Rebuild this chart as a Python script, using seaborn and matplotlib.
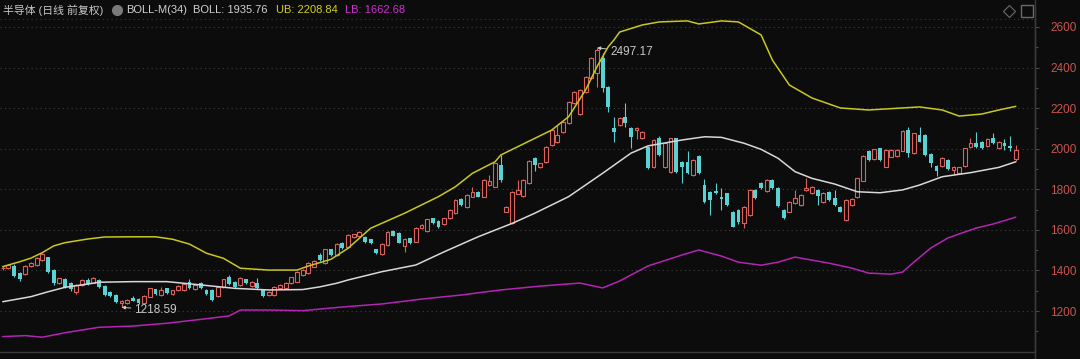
import numpy as np
import pandas as pd
import matplotlib
matplotlib.use("Agg")
import matplotlib.pyplot as plt
from matplotlib.lines import Line2D
import seaborn as sns

# ---------------- data ----------------
opens = [1410, 1412, 1422, 1389, 1381, 1422, 1427, 1451, 1465, 1400,
         1337, 1358, 1340, 1295, 1328, 1353, 1340, 1353, 1323, 1293,
         1279, 1240, 1241, 1263, 1258, 1241, 1271, 1307, 1279, 1312,
         1282, 1303, 1304, 1345, 1310, 1340, 1304, 1304, 1274, 1320,
         1366, 1345, 1328, 1356, 1325, 1340, 1307, 1280, 1280, 1312,
         1312, 1337, 1345, 1378, 1389, 1419, 1476, 1438, 1504, 1476,
         1537, 1517, 1566, 1570, 1565, 1553, 1504, 1481, 1525, 1594,
         1585, 1523, 1558, 1542, 1608, 1596, 1657, 1645, 1629, 1657,
         1682, 1751, 1714, 1764, 1788, 1764, 1821, 1813, 1920, 1690,
         1632, 1779, 1767, 1830, 1954, 1911, 1936, 2018, 2035, 2084,
         2125, 2225, 2171, 2281, 2348, 2373, 2447, 2306, 2102, 2117,
         2158, 2102, 2092, 2053, 2010, 1911, 2051, 1911, 1887, 2051,
         1936, 1936, 1871, 1964, 1821, 1788, 1793, 1764, 1780, 1690,
         1698, 1632, 1673, 1797, 1833, 1793, 1846, 1805, 1698, 1690,
         1734, 1723, 1797, 1780, 1797, 1739, 1788, 1756, 1714, 1649,
         1723, 1760, 1843, 1991, 1949, 2002, 1912, 1961, 1964, 1991,
         2092, 1978, 2068, 2068, 1974, 1915, 1915, 1944, 1895, 1879,
         1915, 2010, 2030, 2035, 2014, 2051, 2002, 2030, 2015, 1947]
closes = [1414, 1427, 1373, 1360, 1422, 1438, 1460, 1481, 1394, 1337,
          1361, 1320, 1307, 1328, 1353, 1332, 1361, 1320, 1279, 1274,
          1245, 1250, 1254, 1251, 1238, 1274, 1312, 1284, 1304, 1288,
          1303, 1323, 1333, 1312, 1330, 1315, 1284, 1254, 1320, 1356,
          1333, 1317, 1361, 1337, 1343, 1313, 1272, 1293, 1320, 1328,
          1337, 1366, 1394, 1402, 1438, 1448, 1451, 1504, 1476, 1530,
          1510, 1575, 1578, 1591, 1538, 1534, 1485, 1529, 1591, 1572,
          1537, 1555, 1534, 1608, 1624, 1652, 1632, 1614, 1657, 1698,
          1747, 1723, 1772, 1788, 1764, 1846, 1843, 1928, 1846, 1714,
          1788, 1797, 1846, 1941, 1920, 1928, 2010, 2092, 2068, 2133,
          2232, 2281, 2290, 2355, 2447, 2487, 2299, 2207, 2084, 2151,
          2125, 2059, 2102, 2084, 1905, 2043, 1969, 2028, 2051, 1887,
          1908, 1879, 1945, 1879, 1739, 1747, 1780, 1751, 1723, 1616,
          1640, 1714, 1797, 1756, 1805, 1846, 1805, 1718, 1657, 1739,
          1756, 1772, 1806, 1813, 1767, 1783, 1747, 1723, 1690, 1747,
          1751, 1854, 1964, 1944, 1997, 1944, 1994, 1994, 1994, 2089,
          1978, 2076, 2035, 1969, 1928, 1892, 1953, 1899, 1912, 1908,
          2002, 2027, 2007, 2002, 2047, 2027, 2035, 2015, 2004, 1993]
highs = [1420, 1432, 1430, 1392, 1425, 1442, 1465, 1486, 1468, 1405,
         1364, 1362, 1345, 1333, 1358, 1365, 1366, 1358, 1326, 1297,
         1283, 1254, 1258, 1275, 1262, 1278, 1316, 1311, 1318, 1316,
         1306, 1327, 1337, 1356, 1334, 1345, 1308, 1308, 1324, 1360,
         1378, 1350, 1366, 1360, 1347, 1365, 1311, 1297, 1325, 1332,
         1341, 1370, 1398, 1407, 1443, 1453, 1485, 1508, 1508, 1534,
         1541, 1579, 1582, 1596, 1569, 1557, 1508, 1533, 1595, 1598,
         1589, 1560, 1562, 1612, 1628, 1656, 1661, 1649, 1661, 1702,
         1752, 1755, 1776, 1810, 1792, 1850, 1870, 1932, 1970, 1718,
         1792, 1846, 1850, 1946, 1960, 1932, 2015, 2097, 2117, 2138,
         2237, 2286, 2295, 2360, 2452, 2497.17, 2470, 2310, 2158, 2155,
         2225, 2106, 2106, 2088, 2014, 2048, 2065, 2032, 2055, 2055,
         1940, 1990, 1950, 1969, 1850, 1792, 1830, 1805, 1784, 1694,
         1702, 1718, 1801, 1801, 1837, 1850, 1850, 1809, 1702, 1743,
         1797, 1776, 1855, 1817, 1801, 1787, 1792, 1796, 1718, 1751,
         1755, 1858, 1968, 1995, 2001, 2006, 1998, 1998, 1998, 2093,
         2105, 2080, 2107, 2072, 1978, 1919, 1957, 1948, 1916, 1912,
         2006, 2053, 2082, 2039, 2051, 2076, 2039, 2050, 2062, 2018]
lows = [1404, 1408, 1368, 1350, 1378, 1418, 1422, 1446, 1390, 1330,
        1333, 1315, 1300, 1285, 1324, 1328, 1336, 1316, 1275, 1270,
        1240, 1218.59, 1236, 1248, 1234, 1237, 1268, 1280, 1276, 1284,
        1279, 1300, 1300, 1308, 1306, 1311, 1280, 1248, 1270, 1316,
        1329, 1313, 1324, 1333, 1321, 1309, 1268, 1276, 1276, 1308,
        1308, 1333, 1341, 1374, 1385, 1415, 1447, 1434, 1472, 1472,
        1506, 1513, 1562, 1566, 1534, 1530, 1481, 1477, 1521, 1568,
        1533, 1493, 1530, 1538, 1604, 1592, 1628, 1610, 1625, 1653,
        1678, 1719, 1710, 1760, 1760, 1760, 1817, 1809, 1838, 1686,
        1628, 1775, 1763, 1826, 1890, 1907, 1932, 2014, 2030, 2080,
        2120, 2220, 2166, 2276, 2343, 2305, 2280, 2180, 2034, 2113,
        2107, 2003, 2050, 2049, 1900, 1907, 1965, 1907, 1880, 1880,
        1831, 1875, 1867, 1875, 1735, 1673, 1776, 1700, 1719, 1612,
        1630, 1610, 1669, 1752, 1801, 1789, 1801, 1714, 1653, 1686,
        1730, 1719, 1793, 1776, 1723, 1735, 1743, 1719, 1686, 1645,
        1719, 1756, 1839, 1940, 1945, 1940, 1908, 1957, 1960, 1987,
        1960, 1974, 2031, 1965, 1910, 1866, 1911, 1895, 1870, 1875,
        1911, 2006, 2003, 1998, 2010, 2023, 1998, 1995, 1990, 1942]

# Bollinger band readings (candle index, value)
ub_idx = [0, 3, 5, 7, 9, 11, 15, 18, 23, 27, 30, 33, 36, 39, 42, 47, 52, 54, 58, 61,
          65, 71, 77, 80, 83, 87, 88, 91, 97, 100, 103, 105, 107, 108, 109, 113, 116,
          121, 123, 127, 130, 134, 136, 139, 143, 148, 153, 159, 162, 166, 169, 173, 176, 179]
ub_val = [1419, 1443, 1461, 1488, 1521, 1537, 1555, 1565, 1566, 1566, 1554, 1530, 1485,
          1460, 1411, 1402, 1402, 1422, 1455, 1509, 1608, 1682, 1764, 1813, 1879, 1936,
          1969, 2010, 2092, 2158, 2290, 2404, 2503, 2536, 2575, 2610, 2625, 2630, 2615,
          2630, 2625, 2561, 2437, 2314, 2250, 2201, 2191, 2201, 2206, 2191, 2161, 2171,
          2191, 2208.84]
mb_idx = [0, 5, 8, 11, 15, 17, 23, 29, 32, 36, 41, 47, 53, 56, 59, 61, 67, 73, 78, 84,
          90, 94, 100, 106, 111, 114, 120, 124, 127, 131, 134, 137, 140, 143, 147, 151,
          155, 159, 162, 166, 171, 176, 179]
mb_val = [1246, 1271, 1295, 1317, 1333, 1342, 1345, 1345, 1337, 1326, 1312, 1304, 1306,
          1319, 1337, 1353, 1394, 1427, 1492, 1566, 1632, 1682, 1764, 1879, 1978, 2014,
          2043, 2059, 2056, 2027, 1997, 1953, 1887, 1854, 1826, 1788, 1783, 1797, 1821,
          1862, 1882, 1908, 1935.76]
lb_idx = [0, 4, 7, 11, 17, 23, 29, 35, 40, 42, 47, 53, 60, 67, 74, 81, 88, 95, 102, 106,
          109, 114, 120, 123, 127, 130, 134, 137, 140, 143, 146, 150, 153, 157, 159, 161,
          164, 167, 169, 172, 175, 179]
lb_val = [1074, 1079, 1071, 1093, 1120, 1126, 1140, 1159, 1176, 1205, 1205, 1202, 1220,
          1235, 1259, 1279, 1304, 1323, 1338, 1314, 1348, 1422, 1476, 1501, 1471, 1441,
          1426, 1441, 1466, 1451, 1436, 1412, 1387, 1382, 1392, 1441, 1511, 1560, 1580,
          1609, 1629, 1662.68]

yticks = [1200, 1400, 1600, 1800, 2000, 2200, 2400, 2600]
title_name = "半导体 (日线 前复权)"
title_ind = "BOLL-M(34)"
boll_txt = "BOLL: 1935.76"
ub_txt = "UB: 2208.84"
lb_txt = "LB: 1662.68"

# ---------------- style ----------------
BG = "#0c0c0c"
RED = "#dc625e"
CYAN = "#58d2d2"
YEL = "#c8c81e"
WHT = "#d8d8d8"
MAG = "#b424b4"

sns.set_theme(style="dark")
plt.rcParams["font.family"] = ["Liberation Sans", "Noto Sans CJK SC", "DejaVu Sans"]

W, H = 1080, 359
fig = plt.figure(figsize=(W / 100, H / 100), dpi=100, facecolor=BG)
ax = fig.add_axes([0, (H - 352) / H, 1035 / W, (352 - 19) / H])
ax.set_facecolor(BG)
ax.set_xlim(-0.48, 182.4)
ax.set_ylim(998.2, 2639.4)

# grid
for v in yticks:
    ax.axhline(v, color="#404040", lw=0.8, ls=(0, (1, 3)), zorder=0)

# candles
df = pd.DataFrame({"o": opens, "c": closes, "h": highs, "l": lows})
df["i"] = np.arange(len(df))
up = df[df.c >= df.o]
dn = df[df.c < df.o]
ax.vlines(up.i, up.l, up.h, color=RED, lw=0.8, zorder=2)
ax.vlines(dn.i, dn.l, dn.h, color=CYAN, lw=0.8, zorder=2)
ax.bar(up.i, (up.c - up.o).clip(lower=2), bottom=up.o, width=0.68,
       facecolor=BG, edgecolor=RED, linewidth=0.8, zorder=3)
ax.bar(dn.i, (dn.o - dn.c).clip(lower=2), bottom=dn.c, width=0.68,
       color=CYAN, linewidth=0, zorder=3)

# bands
sns.lineplot(x=ub_idx, y=ub_val, ax=ax, color=YEL, lw=1.1, sort=False, estimator=None, zorder=4)
sns.lineplot(x=mb_idx, y=mb_val, ax=ax, color=WHT, lw=1.1, sort=False, estimator=None, zorder=4)
sns.lineplot(x=lb_idx, y=lb_val, ax=ax, color=MAG, lw=1.1, sort=False, estimator=None, zorder=4)

# annotations of extremes
ax.annotate("2497.17", xy=(105, 2497.17), xytext=(107.3, 2478), color="#c8c8c8",
            fontsize=8.5, va="center", ha="left",
            arrowprops=dict(arrowstyle="-|>", color="#c8c8c8", lw=0.7,
                            mutation_scale=5, shrinkA=0, shrinkB=0))
ax.annotate("1218.59", xy=(21, 1218.59), xytext=(23.2, 1205), color="#c8c8c8",
            fontsize=8.5, va="center", ha="left",
            arrowprops=dict(arrowstyle="-|>", color="#c8c8c8", lw=0.7,
                            mutation_scale=5, shrinkA=0, shrinkB=0))

# axes styling
for s in ["left", "top"]:
    ax.spines[s].set_visible(False)
ax.spines["right"].set_color("#3a3a3a")
ax.spines["bottom"].set_color("#3a3a3a")
ax.spines["right"].set_linewidth(1.0)
ax.spines["bottom"].set_linewidth(1.0)
ax.set_xticks([])
ax.yaxis.tick_right()
ax.set_yticks(yticks)
ax.set_yticklabels([str(v) for v in yticks])
ax.set_yticks([v + 100 for v in yticks[:-1]] + [1100], minor=True)
ax.tick_params(axis="y", which="major", direction="out", length=3, width=0.8,
               color="#4a4a4a", labelcolor="#c85450", labelsize=8.5, pad=8)
ax.tick_params(axis="y", which="minor", direction="out", length=2, width=0.8,
               color="#4a4a4a", right=True, left=False)
ax.set_xlabel("")
ax.set_ylabel("")
ax.grid(False)
if ax.get_legend():
    ax.get_legend().remove()

# figure decorations
fig.add_artist(Line2D([1035 / W, 1035 / W], [0, 1], color="#3a3a3a", lw=1.0))
fig.add_artist(Line2D([0, 1035 / W], [1 - 19 / H, 1 - 19 / H], color="#3a3a3a", lw=0.8,
                      ls=(0, (1, 3))))

def ftxt(x, y, s, color, size=8.0):
    fig.text(x / W, 1 - y / H, s, color=color, fontsize=size, va="center", ha="left")

ftxt(3, 10, title_name, "#c8c8c8", 7.8)
fig.add_artist(Line2D([117 / W], [1 - 10 / H], marker="o", markersize=7, color="#7a7a7a",
                      lw=0))
ftxt(126, 10, title_ind, "#d0d0d0")
ftxt(193, 10, boll_txt, "#d0d0d0")
ftxt(276, 10, ub_txt, "#d2d21e")
ftxt(345, 10, lb_txt, "#cc30cc")

fig.add_artist(Line2D([1009 / W], [1 - 11 / H], marker="D", markersize=6, color="#6a6a6a",
                      markerfacecolor="none", lw=0, markeredgewidth=0.8))
fig.add_artist(Line2D([1027 / W], [1 - 11 / H], marker="s", markersize=8, color="#6a6a6a",
                      markerfacecolor="none", lw=0, markeredgewidth=1.0))

fig.savefig("out.png", dpi=100, facecolor=BG)
